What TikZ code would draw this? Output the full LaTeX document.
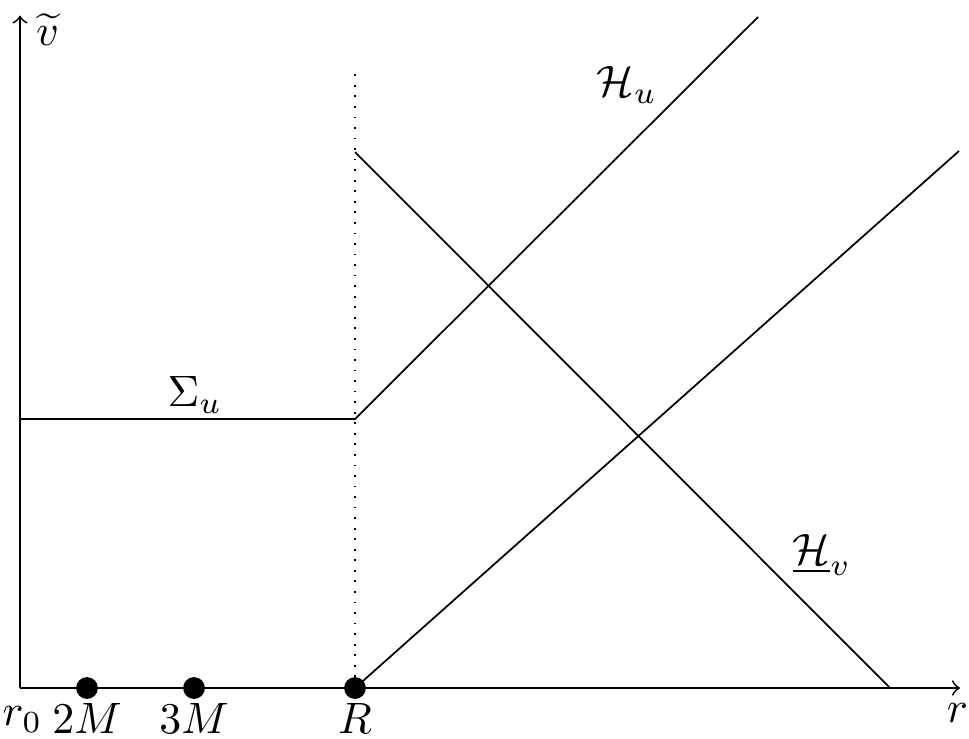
\documentclass[tikz,border=0pt]{standalone}
\usepackage{amsmath}
\usepackage{amssymb}
\usetikzlibrary{positioning}

\begin{document}
\begin{tikzpicture}
            \useasboundingbox (-0.16,-0.4) rectangle (7.592,5.504);
            \coordinate (O) at (0,0);
            \coordinate (Vtop) at (0,5.38);
            \coordinate (Rend) at (7.52,0);
            \coordinate (S) at (0,2.152);
            \coordinate (C) at (2.68,2.152);
            \coordinate (Hu) at (5.904,5.368);
            \coordinate (L) at (7.512,4.296);
            \coordinate (Hv) at (2.68,4.288);
            \coordinate (Hvend) at (6.96,0);
            \coordinate (Dtop) at (2.68,4.93);
            \node[circle,draw,fill=black,inner sep=0pt,minimum size =0.16cm] (M2) at (0.536,0){};
            \node[circle,draw,fill=black,inner sep=0pt,minimum size =0.16cm] (M3) at (1.392,0){};
            \node[circle,draw,fill=black,inner sep=0pt,minimum size =0.16cm] (R) at (2.68,0){};
            \draw[->] (O) -- (Vtop);
            \draw[->] (O) -- (Rend);
            \draw[dotted] (R) -- (Dtop);
            \draw (S) -- (C) -- (Hu);
            \draw (R.center) -- (L);
            \draw (Hv) -- (Hvend);
            \node (vlab) at (0.22,5.27) {$\widetilde{v}$};
            \node (rlab) at (7.5,-0.2) {$r$};
            \node (r0) at (0.02,-0.25) {$r_0$};
            \node (M2lab) at (0.536,-0.24) {$2M$};
            \node (M3lab) at (1.392,-0.24) {$3M$};
            \node (Rlab) at (2.68,-0.24) {$R$};
            \node (HuLab) at (4.856,4.824) {$\mathcal{H}_u$};
            \node (SLab) at (1.4,2.344) {$\Sigma_u$};
            \node (HvLab) at (6.416,1.064) {$\underline{\mathcal{H}}_v$};
        \end{tikzpicture}
\end{document}
